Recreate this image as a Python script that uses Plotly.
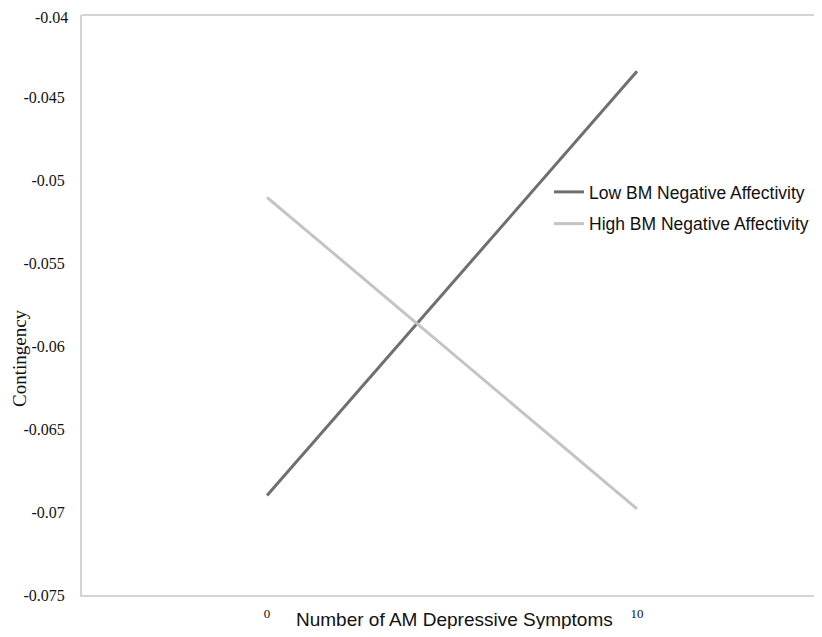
import plotly.graph_objects as go

# Data
x_vals = [0, 10]
x_ticktext = ["0", "10"]
low_na = [-0.069, -0.0434]
high_na = [-0.051, -0.0698]
y_tickvals = [-0.04, -0.045, -0.05, -0.055, -0.06, -0.065, -0.07, -0.075]
y_ticktext = ["-0.04", "-0.045", "-0.05", "-0.055", "-0.06", "-0.065", "-0.07", "-0.075"]
series_names = ["Low BM Negative Affectivity", "High BM Negative Affectivity"]

# page has an 8px body margin; size the figure to fit the 822x637 window
W, H = 814, 621
L, R, T, B = 74, 0, 7, 34
PW, PH = W - L - R, H - T - B
TICKFONT = dict(family="Liberation Serif, Times New Roman", size=16, color="#111")

fig = go.Figure()
fig.add_trace(go.Scatter(x=x_vals, y=low_na, mode="lines", name=series_names[0],
                         legendgroup="a",
                         line=dict(color="#6f6f6f", width=3)))
fig.add_trace(go.Scatter(x=x_vals, y=high_na, mode="lines", name=series_names[1],
                         legendgroup="b",
                         line=dict(color="#c4c4c4", width=3)))

# the top tick label sits at the very edge of the page; draw it as an annotation
axis_ticktext = [t if v != max(y_tickvals) else "" for v, t in zip(y_tickvals, y_ticktext)]

fig.update_layout(
    width=W, height=H,
    margin=dict(l=L, r=R, t=T, b=B),
    paper_bgcolor="white", plot_bgcolor="white",
    showlegend=True,
    legend=dict(x=(541 - L) / PW, y=1 - (166 - T) / PH,
                xanchor="left", yanchor="top",
                font=dict(family="Liberation Sans, Arial", size=17.5, color="#111"),
                bgcolor="rgba(0,0,0,0)", tracegroupgap=6, itemwidth=30),
    xaxis=dict(range=[-5, 15], tickvals=x_vals, ticktext=x_ticktext,
               showgrid=False, zeroline=False, showline=True,
               linecolor="#d4d4d4", linewidth=2, ticks="",
               tickfont=dict(family="Liberation Serif, Times New Roman", size=13, color="#111"),
               ticklabelstandoff=5),
    yaxis=dict(range=[-0.075, -0.04], tickvals=y_tickvals, ticktext=axis_ticktext,
               showgrid=False, zeroline=False, showline=True,
               linecolor="#d4d4d4", linewidth=2, ticks="",
               tickfont=TICKFONT, ticklabelstandoff=12),
)

fig.add_annotation(text=y_ticktext[0], xref="paper", yref="paper",
                   x=0, y=1 + T / PH, xshift=-13, borderpad=0,
                   xanchor="right", yanchor="top", showarrow=False,
                   font=TICKFONT)

# top border
fig.add_shape(type="line", xref="paper", yref="paper", x0=0, x1=1, y0=1, y1=1,
              line=dict(color="#d4d4d4", width=2))

fig.add_annotation(text="Number of AM Depressive Symptoms", xref="paper", yref="paper",
                   x=(447 - L) / PW, y=-(611 - (H - B)) / PH,
                   xanchor="center", yanchor="middle", showarrow=False,
                   font=dict(family="Liberation Sans, Arial", size=19, color="#111"))
fig.add_annotation(text="Contingency", xref="paper", yref="paper",
                   x=-(L - 11) / PW, y=1 - (350 - T) / PH,
                   xanchor="center", yanchor="middle", textangle=-90, showarrow=False,
                   font=dict(family="Liberation Serif, Times New Roman", size=19, color="#111"))

fig.write_html("out.html")
